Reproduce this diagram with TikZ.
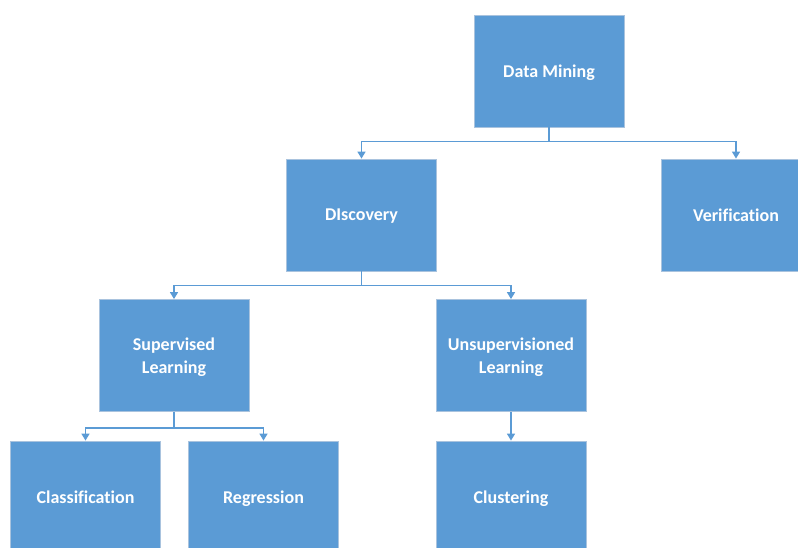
\documentclass[tikz,border=0pt]{standalone}
\usepackage{fontspec}
\setmainfont{Carlito}[Ligatures=NoCommon]
\usetikzlibrary{arrows.meta}
\definecolor{boxblue}{HTML}{5B9BD5}
\definecolor{boxedge}{HTML}{A9C3DE}
\definecolor{linkblue}{HTML}{5B9BD5}
\begin{document}
\begin{tikzpicture}[x=1pt,y=-1pt,
  box/.style={rectangle, fill=boxblue, draw=boxedge, line width=0.8pt,
    minimum width=150pt, minimum height=112pt, inner sep=0pt,
    text=white, align=center, text depth=0pt,
    font=\bfseries\fontsize{18}{23}\selectfont},
  conn/.style={draw=linkblue, line width=1.4pt,
    -{Triangle[width=8pt,length=7pt]}}]
\useasboundingbox (0,0) rectangle (798,547);
\clip (0,0) rectangle (798,547);

% tree of boxes
\node[box] (dm)   at (549,71)    {Data Mining};
\node[box] (disc) at (361.5,215) {DIscovery};
\node[box] (ver)  at (736,215)   {Verification};
\node[box] (sup)  at (174,355.5) {Supervised\\Learning};
\node[box] (uns)  at (511,355.5) {Unsupervisioned\\Learning};
\node[box] (cls)  at (85.5,497)  {Classification};
\node[box] (reg)  at (263.5,497) {Regression};
\node[box] (clu)  at (511,497)   {Clustering};

% elbow connectors
\draw[conn] (dm.south) -- ++(0,14) -| (disc.north);
\draw[conn] (dm.south) -- ++(0,14) -| (ver.north);
\draw[conn] (disc.south) -- ++(0,14) -| (sup.north);
\draw[conn] (disc.south) -- ++(0,14) -| (uns.north);
\draw[conn] (sup.south) -- ++(0,16) -| (cls.north);
\draw[conn] (sup.south) -- ++(0,16) -| (reg.north);
\draw[conn] (uns.south) -- (clu.north);
\end{tikzpicture}
\end{document}
